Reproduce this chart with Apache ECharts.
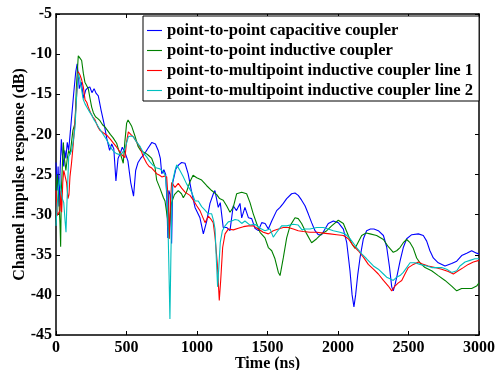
<!DOCTYPE html>
<html><head><meta charset="utf-8">
<script src="https://cdn.jsdelivr.net/npm/echarts@6/dist/echarts.min.js"></script>
<style>html,body{margin:0;padding:0;background:#fff}#c{width:499px;height:370px}</style>
</head><body><div id="c"></div>
<script>
const seriesNames = [
  'point-to-point capacitive coupler',
  'point-to-point inductive coupler',
  'point-to-multipoint inductive coupler line 1',
  'point-to-multipoint inductive coupler line 2'
];
const seriesColors = ['#0000FF', '#008000', '#FF0000', '#00BFBF'];
const xTickMin = 0, xTickMax = 3000, xTickStep = 500;
const yTickMin = -45, yTickMax = -5, yTickStep = 5;
const xAxisTitle = 'Time (ns)';
const yAxisTitle = 'Channel impulse response (dB)';

// [time (ns), response (dB)]
const capacitive = [[0,-23.5],[8,-27],[15,-24],[22,-29],[30,-24],[38,-20.6],[45,-22.5],[55,-24],[62,-22],[70,-23],[80,-21],[90,-22],[100,-20],[110,-18],[125,-15],[140,-12.2],[150,-11.2],[158,-12.5],[165,-14.3],[180,-13.5],[195,-15.5],[210,-14.5],[225,-14.2],[240,-14.1],[255,-14.8],[270,-14.3],[285,-14.9],[300,-15.2],[320,-17],[340,-18.6],[360,-20.5],[380,-22],[395,-21.2],[410,-21.8],[425,-25.8],[440,-23],[455,-22.4],[470,-21.6],[490,-22.3],[510,-23.3],[530,-26],[550,-27.7],[565,-24.5],[582,-23.5],[600,-23],[625,-22.5],[650,-21.8],[680,-21],[705,-21.2],[725,-22],[740,-23],[750,-24.9],[765,-24.4],[778,-25],[786,-28],[793,-32.9],[800,-27],[810,-27.5],[820,-33.6],[828,-26],[850,-24.3],[870,-23.8],[891,-23.5],[915,-23.6],[937,-24.9],[960,-27],[986,-29.1],[1021,-30.4],[1045,-32.4],[1069,-30.8],[1092,-28.6],[1116,-27.4],[1127,-27],[1151,-29.1],[1165,-28.5],[1186,-31.6],[1210,-31.6],[1234,-32],[1257,-28.9],[1280,-29.5],[1305,-28.6],[1317,-30.4],[1340,-29.1],[1365,-30.4],[1388,-30.5],[1411,-31.7],[1435,-32],[1459,-31],[1483,-31.1],[1506,-31.8],[1530,-30.8],[1565,-29.5],[1589,-29.1],[1612,-28.6],[1636,-28],[1671,-27.4],[1695,-27.3],[1718,-27.6],[1742,-28.2],[1766,-28.9],[1789,-29.9],[1813,-31],[1837,-32],[1860,-32.5],[1884,-32.5],[1908,-31.8],[1931,-31.1],[1967,-30.8],[2002,-31],[2038,-31.8],[2062,-33.5],[2085,-37],[2100,-40],[2113,-41.5],[2125,-40],[2140,-37.5],[2156,-35.4],[2180,-33],[2203,-32],[2230,-31.8],[2255,-31.8],[2286,-32],[2322,-32.6],[2345,-34],[2365,-36.5],[2381,-39],[2392,-39.5],[2405,-38.7],[2420,-37.5],[2440,-35.8],[2463,-34.1],[2487,-33],[2523,-32.5],[2570,-32.4],[2605,-32.6],[2629,-33.3],[2652,-34.5],[2676,-35.4],[2711,-36],[2759,-36.4],[2806,-36.1],[2842,-35.8],[2877,-35.1],[2913,-34.8],[2948,-34.5],[2983,-34.8],[3000,-34.9]];

const inductive = [[0,-27],[10,-25],[20,-28],[28,-31],[33,-34],[38,-27],[45,-24],[52,-21],[60,-23],[70,-24.5],[80,-23],[90,-22],[100,-22.5],[110,-21],[120,-19.5],[135,-18.6],[145,-14],[158,-10.2],[170,-10.5],[182,-10.8],[194,-12.4],[205,-13.5],[218,-13.3],[229,-14.3],[241,-15.5],[253,-16.6],[265,-17.3],[280,-17.8],[295,-18],[312,-18.3],[330,-18.8],[348,-19.1],[365,-19.5],[385,-20],[404,-20.4],[418,-20.6],[430,-21.1],[445,-22],[460,-22.6],[477,-23.6],[488,-21],[501,-18.6],[511,-18.2],[524,-18.3],[537,-19],[560,-20.2],[582,-21.5],[600,-22],[619,-22.2],[640,-22.4],[655,-22.6],[679,-23],[702,-24.1],[714,-25.7],[737,-26.7],[762,-27.9],[773,-28.3],[785,-28.5],[795,-31],[802,-33],[810,-30],[820,-28.5],[840,-27.5],[867,-27],[890,-27.4],[903,-27.9],[925,-27.2],[950,-25.9],[972,-25.1],[998,-25.4],[1033,-25.7],[1069,-26.4],[1104,-27],[1140,-27.5],[1160,-28],[1186,-28.2],[1210,-28.9],[1234,-29.7],[1257,-29.1],[1281,-27.4],[1317,-27.2],[1352,-27.4],[1376,-28.5],[1399,-29.9],[1423,-31.1],[1447,-32.2],[1482,-32.9],[1506,-34.1],[1530,-34.5],[1553,-35.5],[1577,-37.2],[1589,-37.6],[1612,-35.4],[1636,-32.9],[1660,-31.4],[1695,-30.4],[1718,-30.5],[1742,-31.1],[1778,-32.4],[1813,-33.5],[1849,-33],[1884,-32.4],[1920,-32],[1955,-31.4],[2002,-30.7],[2038,-31.1],[2073,-32.6],[2097,-33.6],[2121,-34.2],[2144,-33.4],[2168,-32.6],[2200,-32.3],[2227,-32.4],[2274,-32.6],[2322,-33.1],[2357,-34],[2392,-34.7],[2416,-34.5],[2440,-34.1],[2463,-33.5],[2487,-33.1],[2511,-33.5],[2534,-34.2],[2558,-35.4],[2581,-36],[2617,-36.6],[2664,-37],[2711,-37.6],[2759,-38.2],[2806,-38.9],[2842,-39.5],[2877,-39.2],[2913,-39.2],[2948,-39.2],[2983,-38.9],[3000,-38.5]];

const multipointLine1 = [[0,-27],[9,-30.1],[20,-30.3],[28,-29.5],[35,-27],[40,-29.7],[48,-26],[55,-24.5],[64,-24.5],[75,-26],[85,-28],[92,-27.5],[99,-25.3],[110,-23.6],[123,-21.1],[140,-17],[150,-14],[158,-12.2],[170,-12.6],[182,-13.2],[194,-14.1],[206,-15.7],[218,-16],[229,-16.6],[245,-17.3],[260,-17.8],[277,-18.2],[295,-19],[312,-19.5],[335,-19.8],[360,-20.1],[385,-20.6],[407,-21.1],[430,-21.6],[454,-22.2],[470,-22.6],[489,-22.9],[500,-21],[513,-19.7],[530,-20],[548,-20.3],[570,-20.9],[596,-21.6],[619,-22.8],[643,-23.6],[660,-24],[679,-24.2],[700,-24.6],[714,-24.9],[735,-25.1],[750,-25.3],[770,-25.2],[785,-25.3],[795,-28],[802,-33],[810,-29],[820,-26],[844,-26.6],[867,-26.1],[891,-26.7],[915,-27.2],[950,-27.6],[974,-28.2],[998,-28.9],[1021,-29.5],[1045,-30.5],[1057,-31],[1080,-30.2],[1100,-30.6],[1115,-31],[1128,-32.8],[1144,-36.1],[1158,-40.7],[1168,-38.2],[1182,-34.1],[1199,-32.4],[1222,-31.8],[1258,-31.9],[1293,-31.7],[1329,-31.5],[1364,-31.4],[1399,-31.4],[1435,-31.8],[1470,-32.2],[1506,-32.4],[1541,-32],[1577,-31.8],[1612,-31.6],[1648,-31.6],[1683,-31.8],[1718,-32],[1754,-32.1],[1801,-32.2],[1849,-32.2],[1896,-32.3],[1943,-32.4],[1991,-32.5],[2038,-32.6],[2073,-33],[2109,-33.9],[2144,-34.5],[2180,-35.3],[2215,-36.2],[2251,-36.8],[2286,-37.4],[2322,-38.2],[2357,-38.9],[2381,-39.5],[2404,-38.9],[2428,-38.5],[2452,-38.2],[2475,-37.4],[2499,-36.6],[2534,-36.2],[2570,-35.9],[2605,-36.2],[2640,-36.4],[2688,-36.6],[2735,-36.8],[2782,-37.1],[2818,-37.4],[2853,-37],[2889,-36.6],[2924,-36.2],[2960,-35.9],[3000,-35.7]];

const multipointLine2 = [[0,-31.4],[8,-29],[15,-27],[25,-25.5],[35,-27],[45,-28],[55,-28.5],[64,-30.7],[71,-32.2],[76,-29.3],[82,-26.6],[90,-22.8],[100,-23],[111,-22],[125,-20.5],[135,-19.1],[147,-15],[158,-12.4],[170,-13.2],[182,-14.5],[194,-15.7],[206,-16.2],[218,-16.6],[235,-17.1],[253,-17.6],[270,-18.2],[289,-18.7],[305,-19.2],[324,-19.7],[342,-20.2],[360,-20.7],[378,-21.3],[395,-21.8],[412,-22.2],[430,-22.4],[448,-22.5],[466,-22.4],[489,-21.8],[513,-20.3],[530,-20.2],[548,-20.3],[570,-20.9],[596,-21.5],[620,-22.3],[643,-22.8],[665,-23.4],[690,-23.9],[714,-24.2],[738,-24.3],[761,-24.7],[775,-25.1],[790,-28],[800,-36],[808,-43],[815,-35],[825,-26],[844,-24.5],[856,-23.8],[879,-24.5],[900,-25.2],[927,-26.2],[962,-27.2],[986,-28.3],[1009,-28.3],[1033,-29],[1055,-29.4],[1080,-29.9],[1104,-29.9],[1118,-30.8],[1128,-31.8],[1137,-35.5],[1146,-39],[1155,-36.5],[1165,-33.5],[1180,-32],[1199,-31.4],[1222,-30.9],[1246,-30.8],[1270,-30.6],[1293,-30.7],[1317,-31.1],[1340,-30.8],[1376,-31.3],[1411,-31.2],[1447,-31.7],[1482,-32],[1518,-31.8],[1541,-32.8],[1565,-32.2],[1600,-31.4],[1636,-31.4],[1683,-31.2],[1718,-31.3],[1745,-31.9],[1766,-31.8],[1801,-31.8],[1849,-31.6],[1896,-31.6],[1930,-31.8],[1967,-32],[2014,-32.2],[2050,-32.4],[2085,-33],[2132,-34.1],[2168,-34.9],[2203,-35.5],[2251,-36.4],[2286,-36.8],[2322,-37.4],[2345,-37.8],[2369,-38],[2392,-38.2],[2416,-37.8],[2440,-37.6],[2463,-37.2],[2487,-36.6],[2511,-36],[2546,-36],[2581,-36.2],[2629,-36.4],[2664,-36.6],[2700,-36.6],[2735,-36.6],[2771,-36.8],[2806,-37.2],[2842,-37],[2865,-36.4],[2901,-35.9],[2936,-35.7],[2971,-35.5],[3000,-35.5]];

const allData = [capacitive, inductive, multipointLine1, multipointLine2];

const font = 'Liberation Serif';
const chart = echarts.init(document.getElementById('c'), null, {renderer: 'canvas'});
const axisLineStyle = {color: '#000', width: 1.5};
const tick = {inside: true, length: 4, lineStyle: {color: '#000', width: 1}};
const lbl = {color: '#000', fontFamily: font, fontWeight: 'bold', fontSize: 16, formatter: v => String(v)};

chart.setOption({
  animation: false,
  backgroundColor: '#fff',
  grid: {left: 56, right: 20, top: 14, bottom: 35, containLabel: false, outerBoundsMode: 'none'},
  legend: {
    orient: 'vertical', left: 143, top: 16,
    padding: [6, 6, 2, 4], itemGap: 3, itemWidth: 15, itemHeight: 14,
    icon: 'path://M0,0H16V1.2H0Z',
    backgroundColor: '#fff', borderColor: '#000', borderWidth: 1, borderRadius: 0,
    textStyle: {fontFamily: font, fontWeight: 'bold', fontSize: 16.6, color: '#000'},
    data: seriesNames
  },
  xAxis: [
    {type: 'value', min: xTickMin, max: xTickMax, interval: xTickStep, position: 'bottom',
     axisLine: {onZero: false, lineStyle: axisLineStyle}, axisTick: tick,
     axisLabel: Object.assign({margin: 5}, lbl), splitLine: {show: false},
     name: xAxisTitle, nameLocation: 'middle', nameGap: 21, nameMoveOverlap: false,
     nameTextStyle: {color: '#000', fontFamily: font, fontWeight: 'bold', fontSize: 16}},
    {type: 'value', min: xTickMin, max: xTickMax, interval: xTickStep, position: 'top',
     axisLine: {onZero: false, lineStyle: axisLineStyle}, axisTick: tick,
     axisLabel: {show: false}, splitLine: {show: false}}
  ],
  yAxis: [
    {type: 'value', min: yTickMin, max: yTickMax, interval: yTickStep, position: 'left',
     axisLine: {onZero: false, lineStyle: axisLineStyle}, axisTick: tick,
     axisLabel: Object.assign({margin: 4}, lbl), splitLine: {show: false},
     name: yAxisTitle, nameLocation: 'middle', nameGap: 28, nameMoveOverlap: false,
     nameTextStyle: {color: '#000', fontFamily: font, fontWeight: 'bold', fontSize: 16}},
    {type: 'value', min: yTickMin, max: yTickMax, interval: yTickStep, position: 'right',
     axisLine: {onZero: false, lineStyle: axisLineStyle}, axisTick: tick,
     axisLabel: {show: false}, splitLine: {show: false}}
  ],
  series: allData.map((d, i) => ({
    name: seriesNames[i], type: 'line', data: d,
    xAxisIndex: 0, yAxisIndex: 0,
    symbol: 'none', showSymbol: false,
    lineStyle: {color: seriesColors[i], width: 1.1},
    itemStyle: {color: seriesColors[i]},
    z: 2 + i
  }))
});
</script></body></html>
